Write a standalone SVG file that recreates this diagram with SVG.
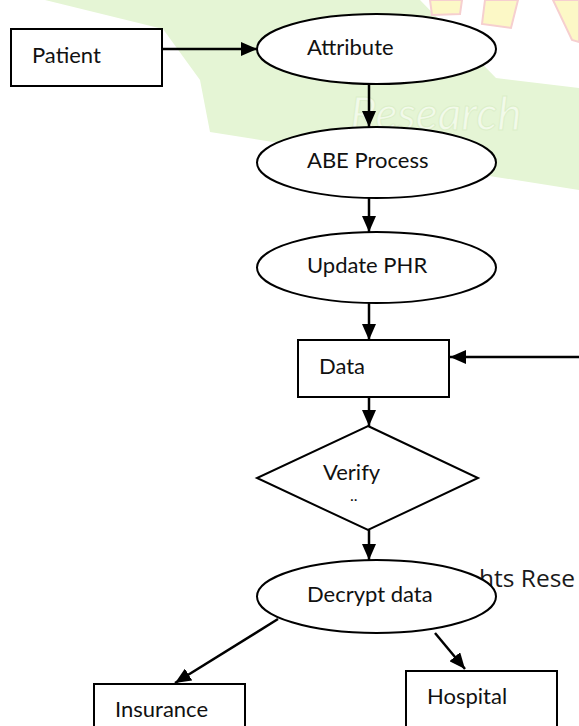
<svg xmlns="http://www.w3.org/2000/svg" width="579" height="726" viewBox="0 0 579 726">
  <defs>
    <marker id="ah" markerUnits="userSpaceOnUse" markerWidth="16" markerHeight="14" refX="16" refY="7" orient="auto">
      <path d="M0,0 L16,7 L0,14 z" fill="#000"/>
    </marker>
    <style>
      .shape { fill: #fff; stroke: #000; stroke-width: 2; }
      .edge { fill: none; stroke: #000; stroke-width: 2.5; marker-end: url(#ah); }
      .lbl { font-family: Lato, "Open Sans", sans-serif; font-size: 22px; fill: #111; }
      .wm { font-family: "Open Sans", Lato, sans-serif; fill: #1a1a1a; font-size: 24.5px; }
    </style>
  </defs>
  <rect width="579" height="726" fill="#fff"/>
  <!-- watermark background -->
  <g id="watermark">
    <polygon points="45,0 420,0 496,78 579,88 579,190 210,132 200,80 163,29" fill="#e5f5d5"/>
    <text x="350" y="130" font-family="Lato, sans-serif" font-size="46" font-style="italic" fill="#f2faea" stroke="#dcefc9" stroke-width="1">Research</text>
    <path d="M430,0 L462,0 L460,14 L432,15 z" fill="#fcf8c6" stroke="#f6cfcf" stroke-width="2"/>
    <path d="M485,0 L518,0 L511,28 L482,24 z" fill="#fcf8c6" stroke="#f6cfcf" stroke-width="2"/>
    <path d="M553,0 L579,0 L579,42 L572,40 z" fill="#fcf8c6" stroke="#f6cfcf" stroke-width="2"/>
    <text class="wm" x="479" y="587">hts Rese</text>
  </g>
  <g id="edges">
    <line class="edge" x1="162" y1="49" x2="257" y2="49"/>
    <line class="edge" x1="369" y1="84" x2="369" y2="127"/>
    <line class="edge" x1="369" y1="198" x2="369" y2="232"/>
    <line class="edge" x1="369" y1="303" x2="369" y2="340"/>
    <line class="edge" x1="579" y1="357" x2="450" y2="357"/>
    <line class="edge" x1="369" y1="397" x2="369" y2="426"/>
    <line class="edge" x1="369" y1="530" x2="369" y2="560"/>
    <line class="edge" x1="278" y1="619" x2="175" y2="683"/>
    <line class="edge" x1="435" y1="633" x2="465" y2="669"/>
  </g>
  <g id="patient">
    <rect class="shape" x="11" y="29" width="151" height="57"/>
    <text class="lbl" x="32" y="63">Patient</text>
  </g>
  <g id="attribute">
    <ellipse class="shape" cx="376.5" cy="49" rx="119.5" ry="35"/>
    <text class="lbl" x="307" y="55">Attribute</text>
  </g>
  <g id="abe">
    <ellipse class="shape" cx="376.5" cy="162.5" rx="119.5" ry="35.5"/>
    <text class="lbl" x="307" y="168">ABE Process</text>
  </g>
  <g id="phr">
    <ellipse class="shape" cx="376.5" cy="267.5" rx="119.5" ry="35.5"/>
    <text class="lbl" x="307" y="273">Update PHR</text>
  </g>
  <g id="data">
    <rect class="shape" x="298" y="340" width="151" height="57"/>
    <text class="lbl" x="319" y="374">Data</text>
  </g>
  <g id="verify">
    <polygon class="shape" points="368,426 478,478 368,530 257,478"/>
    <text class="lbl" x="323" y="480">Verify</text>
    <text class="lbl" x="350" y="501" style="font-size:16px">..</text>
  </g>
  <g id="decrypt">
    <ellipse class="shape" cx="376.5" cy="596.5" rx="119.5" ry="36.5"/>
    <text class="lbl" x="307" y="602">Decrypt data</text>
  </g>
  <g id="insurance">
    <rect class="shape" x="94" y="684" width="151" height="60"/>
    <text class="lbl" x="115" y="717">Insurance</text>
  </g>
  <g id="hospital">
    <rect class="shape" x="406" y="671" width="151" height="70"/>
    <text class="lbl" x="427" y="704">Hospital</text>
  </g>
</svg>
